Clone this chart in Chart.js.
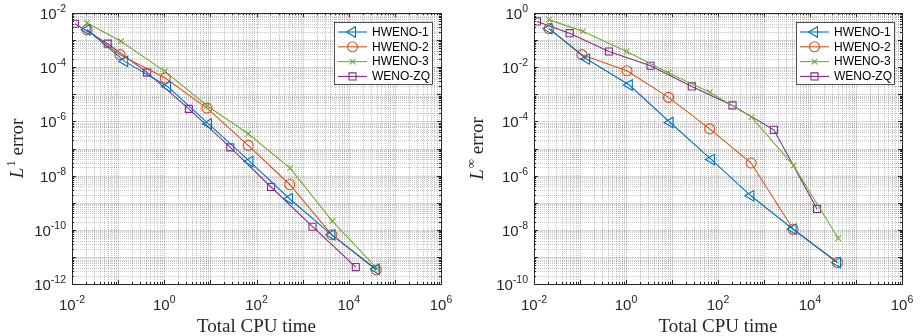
<!DOCTYPE html>
<html><head><meta charset="utf-8">
<script src="https://cdn.jsdelivr.net/npm/chart.js@4.4.0/dist/chart.umd.min.js"></script>
<style>
html,body{margin:0;padding:0;background:#fff;overflow:hidden}
#w{position:relative;width:921px;height:336px;background:#fff}
.box{position:absolute;top:0;height:336px}
</style></head>
<body><div id="w">
<div class="box" style="left:0;width:460px"><canvas id="c1" width="460" height="336"></canvas></div>
<div class="box" style="left:460px;width:461px"><canvas id="c2" width="461" height="336"></canvas></div>
</div>
<script>
// ---- data ----
const seriesNames = ['HWENO-1','HWENO-2','HWENO-3','WENO-ZQ'];
const timeH1 = [0.0212,0.139,1.18,9.1,72,518,4300,39500];
const timeH2 = [0.0212,0.110,1.05,8.4,66,525,4300,39500];
const timeH3 = [0.0212,0.115,1.03,8.5,66,535,4400,41000];
const timeZQ = [0.0116,0.0595,0.426,3.42,27,207,1640,14200];

const errL1H1 = [2.4e-3,1.64e-4,1.95e-5,8.1e-7,3.3e-8,1.4e-9,6.5e-11,3.5e-12];
const errL1H2 = [2.4e-3,2.9e-4,4.0e-5,3.1e-6,1.3e-7,4.7e-9,6.5e-11,3.3e-12];
const errL1H3 = [4.3e-3,9.0e-4,7.0e-5,3.8e-6,3.5e-7,1.9e-8,2.1e-10,3.8e-12];
const errL1ZQ = [4.0e-3,7.4e-4,6.3e-5,2.9e-6,1.1e-7,3.8e-9,1.3e-10,4.2e-12];

const errLiH1 = [0.264,0.020,2.2e-3,9.1e-5,3.9e-6,1.8e-7,1.05e-8,6.2e-10];
const errLiH2 = [0.264,0.029,7.4e-3,7.7e-4,5.3e-5,2.9e-6,1.05e-8,6.2e-10];
const errLiH3 = [0.57,0.21,0.038,6.1e-3,1.2e-3,1.44e-4,2.35e-6,4.9e-9];
const errLiZQ = [0.49,0.18,0.038,0.0113,1.95e-3,3.9e-4,4.9e-5,5.9e-8];

const xTickExps = [-2,0,2,4,6];
const yTickExpsL1 = [-12,-10,-8,-6,-4,-2];
const yTickExpsLi = [-10,-8,-6,-4,-2,0];

// ---- styles ----
const colors = ['#0072BD','#D95319','#77AC30','#7E2F8E'];
const pStyles = [
  {pointStyle:'triangle', rotation:-90, radius:6},
  {pointStyle:'circle', rotation:0, radius:5},
  {pointStyle:'crossRot', rotation:0, radius:4},
  {pointStyle:'rect', rotation:0, radius:5}
];
const AX = '#262626';

function mkDatasets(times, errs){
  return errs.map((e,i)=>({
    label: seriesNames[i],
    data: times[i].map((t,j)=>({x:t,y:e[j]})),
    borderColor: colors[i],
    backgroundColor: 'rgba(0,0,0,0)',
    pointBackgroundColor: 'rgba(0,0,0,0)',
    pointBorderColor: colors[i],
    pointStyle: pStyles[i].pointStyle,
    pointRotation: pStyles[i].rotation,
    pointRadius: pStyles[i].radius,
    pointHoverRadius: pStyles[i].radius,
    pointBorderWidth: 1.1,
    borderWidth: 1.1,
    tension: 0,
    fill: false
  }));
}

function decadeVals(minExp, maxExp){
  const out=[];
  for(let k=minExp;k<maxExp;k++){
    for(let m=1;m<=9;m++) out.push({v:m*Math.pow(10,k), major:m===1});
  }
  out.push({v:Math.pow(10,maxExp), major:true});
  return out;
}

function drawPow(ctx, x, y, sup, align, baseFont, supFont){
  ctx.font = baseFont;
  const wb = ctx.measureText('10').width;
  ctx.font = supFont;
  const ws = ctx.measureText(sup).width;
  const w = wb+ws;
  let x0 = align==='center' ? x - w/2 : x - w;
  ctx.textAlign='left'; ctx.textBaseline='alphabetic';
  ctx.font = baseFont; ctx.fillText('10', x0, y);
  ctx.font = supFont; ctx.fillText(sup, x0+wb, y-7);
}

const decor = {
  id:'decor',
  beforeDatasetsDraw(chart, args, o){
    const ctx=chart.ctx, a=chart.chartArea, xs=chart.scales.x, ys=chart.scales.y;
    ctx.save();
    ctx.fillStyle='#fff'; ctx.fillRect(a.left,a.top,a.right-a.left,a.bottom-a.top);
    const xv=decadeVals(o.xMinExp,o.xMaxExp), yv=decadeVals(o.yMinExp,o.yMaxExp);
    // minor
    ctx.lineWidth=1; ctx.strokeStyle='rgba(0,0,0,0.22)'; ctx.setLineDash([1,1]);
    ctx.beginPath();
    xv.filter(t=>!t.major).forEach(t=>{const p=Math.round(xs.getPixelForValue(t.v))+0.5; ctx.moveTo(p,a.top); ctx.lineTo(p,a.bottom);});
    yv.filter(t=>!t.major).forEach(t=>{const p=Math.round(ys.getPixelForValue(t.v))+0.5; ctx.moveTo(a.left,p); ctx.lineTo(a.right,p);});
    ctx.stroke();
    // major
    ctx.setLineDash([]); ctx.strokeStyle='rgba(0,0,0,0.15)';
    ctx.beginPath();
    xv.filter(t=>t.major).forEach(t=>{const p=Math.round(xs.getPixelForValue(t.v))+0.5; ctx.moveTo(p,a.top); ctx.lineTo(p,a.bottom);});
    yv.filter(t=>t.major).forEach(t=>{const p=Math.round(ys.getPixelForValue(t.v))+0.5; ctx.moveTo(a.left,p); ctx.lineTo(a.right,p);});
    ctx.stroke();
    ctx.restore();
  },
  afterDatasetsDraw(chart, args, o){
    const ctx=chart.ctx, a=chart.chartArea, xs=chart.scales.x, ys=chart.scales.y;
    ctx.save();
    const xv=decadeVals(o.xMinExp,o.xMaxExp), yv=decadeVals(o.yMinExp,o.yMaxExp);
    // ticks
    ctx.strokeStyle=AX; ctx.lineWidth=1; ctx.beginPath();
    xv.forEach(t=>{const p=Math.round(xs.getPixelForValue(t.v))+0.5; const L=t.major?4:2;
      ctx.moveTo(p,a.bottom); ctx.lineTo(p,a.bottom-L); ctx.moveTo(p,a.top); ctx.lineTo(p,a.top+L);});
    yv.forEach(t=>{const p=Math.round(ys.getPixelForValue(t.v))+0.5; const L=t.major?4:2;
      ctx.moveTo(a.left,p); ctx.lineTo(a.left+L,p); ctx.moveTo(a.right,p); ctx.lineTo(a.right-L,p);});
    ctx.stroke();
    // box
    ctx.strokeStyle=AX; ctx.lineWidth=1;
    ctx.strokeRect(Math.round(a.left)+0.5, Math.round(a.top)+0.5, Math.round(a.right-a.left), Math.round(a.bottom-a.top));
    // tick labels
    ctx.fillStyle=AX;
    const bf='15px "Liberation Sans", Arial, sans-serif', sf='10.5px "Liberation Sans", Arial, sans-serif';
    o.xTicks.forEach(e=>{drawPow(ctx, xs.getPixelForValue(Math.pow(10,e)), a.bottom+26, String(e), 'center', bf, sf);});
    o.yTicks.forEach(e=>{drawPow(ctx, a.left-6, ys.getPixelForValue(Math.pow(10,e))+6, String(e), 'right', bf, sf);});
    // x title
    ctx.font='19px "Liberation Serif", "Times New Roman", serif';
    ctx.textAlign='center'; ctx.textBaseline='alphabetic';
    ctx.fillText('Total CPU time', (a.left+a.right)/2, 332);
    // y title (rotated)
    ctx.save();
    ctx.translate(o.yTitleX, (a.top+a.bottom)/2);
    ctx.rotate(-Math.PI/2);
    const fI='italic 19px "Liberation Serif", "Times New Roman", serif';
    const fS='13px "Liberation Serif", "Times New Roman", serif';
    const fR='19px "Liberation Serif", "Times New Roman", serif';
    ctx.font=fI; const w1=ctx.measureText('L').width;
    ctx.font=fS; const w2=ctx.measureText(o.ySup).width;
    ctx.font=fR; const w3=ctx.measureText(' error').width;
    let x0=-(w1+w2+1+w3)/2;
    ctx.textAlign='left';
    ctx.font=fI; ctx.fillText('L',x0,0); x0+=w1+1;
    ctx.font=fS; ctx.fillText(o.ySup,x0,-8); x0+=w2;
    ctx.font=fR; ctx.fillText(' error',x0,0);
    ctx.restore();
    // legend
    const lg=o.legend;
    ctx.fillStyle='#fff'; ctx.fillRect(lg.x,lg.y,lg.w,lg.h);
    ctx.strokeStyle=AX; ctx.lineWidth=0.8; ctx.strokeRect(lg.x+0.5,lg.y+0.5,lg.w,lg.h);
    chart.data.datasets.forEach((ds,i)=>{
      const yy=lg.y+10+i*14.8;
      ctx.strokeStyle=ds.borderColor; ctx.lineWidth=1.1;
      ctx.beginPath(); ctx.moveTo(lg.x+4,yy); ctx.lineTo(lg.x+33,yy); ctx.stroke();
      ctx.fillStyle='rgba(0,0,0,0)';
      Chart.helpers.drawPoint(ctx,{pointStyle:ds.pointStyle,rotation:ds.pointRotation,radius:ds.pointRadius,borderWidth:1.1},lg.x+18.5,yy);
      ctx.fillStyle='#000'; ctx.font='12px "Liberation Sans", Arial, sans-serif';
      ctx.textAlign='left'; ctx.textBaseline='middle';
      ctx.fillText(ds.label, lg.x+38, yy+0.5);
    });
    ctx.restore();
  }
};

function makeChart(id, datasets, yMinExp, yMaxExp, yTicks, ySup, yAxisW, legendX){
  return new Chart(document.getElementById(id), {
    type:'line',
    data:{datasets},
    options:{
      responsive:false, animation:false, devicePixelRatio:1,
      layout:{padding:{left:0,right:19,top:13,bottom:0}, autoPadding:false},
      plugins:{
        legend:{display:false}, tooltip:{enabled:false},
        decor:{xMinExp:-2,xMaxExp:6,yMinExp,yMaxExp,xTicks:xTickExps,yTicks,ySup,yTitleX:23,
          legend:{x:legendX,y:22,w:98,h:62}}
      },
      scales:{
        x:{type:'logarithmic',min:1e-2,max:1e6,
           ticks:{display:false},grid:{display:false},border:{display:false},
           afterFit(s){s.height=52;}},
        y:{type:'logarithmic',min:Math.pow(10,yMinExp),max:Math.pow(10,yMaxExp),
           ticks:{display:false},grid:{display:false},border:{display:false},
           afterFit(s){s.width=yAxisW;}}
      }
    },
    plugins:[decor]
  });
}

const times=[timeH1,timeH2,timeH3,timeZQ];
makeChart('c1', mkDatasets(times,[errL1H1,errL1H2,errL1H3,errL1ZQ]), -12, -2, yTickExpsL1, '1', 72, 334);
makeChart('c2', mkDatasets(times,[errLiH1,errLiH2,errLiH3,errLiZQ]), -10, 0, yTickExpsLi, '\u221E', 74, 336);
</script>
</body></html>
